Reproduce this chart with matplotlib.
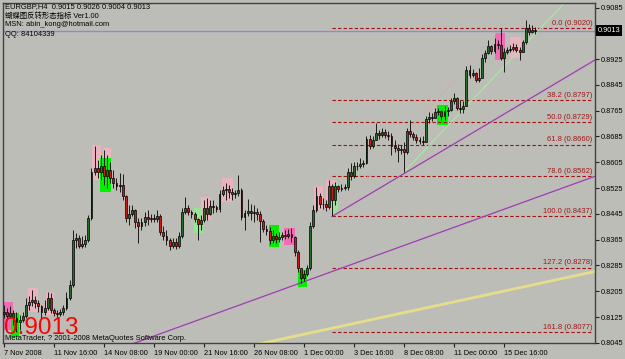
import numpy as np
import matplotlib
matplotlib.use("Agg")
import matplotlib.pyplot as plt
from matplotlib.patches import Rectangle

plt.rcParams['font.family'] = ['Liberation Sans', 'Noto Sans CJK SC', 'DejaVu Sans']

# EURGBP H4 candles from 7 Nov 2008 00:00, prices in 1/10000
first_open = 8134
closes = [8141, 8128, 8138, 8122, 8110, 8116, 8128, 8163, 8172, 8178,
          8169, 8159, 8141, 8153, 8184, 8147, 8138, 8135, 8141, 8153,
          8184, 8225, 8364, 8370, 8345, 8352, 8364, 8432, 8575, 8587,
          8575, 8593, 8562, 8581, 8556, 8541, 8531, 8534, 8500, 8432,
          8445, 8457, 8420, 8407, 8420, 8435, 8429, 8432, 8429, 8438,
          8389, 8376, 8364, 8345, 8358, 8345, 8376, 8451, 8463, 8451,
          8445, 8429, 8414, 8426, 8463, 8445, 8469, 8466, 8460, 8507,
          8519, 8522, 8513, 8507, 8510, 8519, 8435, 8448, 8454, 8448,
          8451, 8445, 8423, 8398, 8392, 8364, 8376, 8367, 8373, 8380,
          8376, 8383, 8373, 8327, 8277, 8246, 8259, 8277, 8407, 8457,
          8500, 8476, 8474, 8466, 8531, 8488, 8531, 8522, 8525, 8528,
          8575, 8562, 8593, 8592, 8600, 8603, 8677, 8655, 8674, 8696,
          8690, 8699, 8690, 8686, 8655, 8649, 8643, 8645, 8637, 8702,
          8693, 8683, 8674, 8671, 8669, 8739, 8745, 8742, 8761, 8764,
          8748, 8764, 8767, 8795, 8804, 8773, 8770, 8779, 8891, 8876,
          8882, 8860, 8866, 8928, 8944, 8965, 8950, 8972, 8970, 8928,
          8947, 8953, 8956, 8962, 8953, 8947, 8978, 9021, 9010, 9015,
          9013]
highs = [8163, 8153, 8159, 8147, 8141, 8132, 8141, 8184, 8190, 8209,
         8190, 8178, 8163, 8178, 8203, 8200, 8153, 8147, 8150, 8163,
         8203, 8240, 8395, 8386, 8380, 8376, 8380, 8442, 8587, 8655,
         8612, 8628, 8643, 8628, 8606, 8581, 8556, 8572, 8570, 8504,
         8473, 8473, 8460, 8432, 8432, 8451, 8457, 8445, 8445, 8457,
         8445, 8407, 8395, 8370, 8370, 8370, 8389, 8463, 8497, 8473,
         8457, 8451, 8432, 8442, 8488, 8494, 8488, 8488, 8473, 8519,
         8531, 8541, 8534, 8525, 8519, 8565, 8525, 8457, 8491, 8476,
         8473, 8463, 8454, 8429, 8410, 8404, 8395, 8386, 8389, 8389,
         8395, 8398, 8401, 8376, 8333, 8277, 8271, 8287, 8420, 8473,
         8528, 8510, 8494, 8488, 8550, 8538, 8544, 8534, 8538, 8538,
         8587, 8603, 8606, 8606, 8618, 8612, 8686, 8690, 8686, 8727,
         8705, 8711, 8708, 8702, 8696, 8674, 8662, 8659, 8668, 8711,
         8736, 8699, 8693, 8683, 8686, 8748, 8761, 8758, 8773, 8773,
         8767, 8779, 8776, 8804, 8820, 8807, 8798, 8795, 8903, 8906,
         8894, 8885, 8897, 8941, 8953, 8984, 8968, 8990, 8984, 9020,
         8959, 8962, 8968, 8975, 8972, 8962, 8984, 9046, 9034, 9030,
         9026]
lows = [8122, 8116, 8122, 8100, 8079, 8085, 8110, 8122, 8147, 8159,
        8153, 8141, 8122, 8132, 8147, 8138, 8128, 8125, 8128, 8132,
        8147, 8178, 8218, 8339, 8339, 8339, 8342, 8358, 8426, 8566,
        8556, 8550, 8534, 8525, 8541, 8525, 8519, 8513, 8488, 8420,
        8410, 8438, 8401, 8355, 8395, 8407, 8410, 8420, 8420, 8420,
        8380, 8364, 8349, 8333, 8339, 8336, 8339, 8370, 8445, 8442,
        8432, 8420, 8364, 8395, 8420, 8426, 8442, 8448, 8451, 8451,
        8500, 8488, 8494, 8488, 8494, 8500, 8426, 8395, 8438, 8426,
        8420, 8426, 8358, 8389, 8380, 8352, 8355, 8355, 8358, 8364,
        8367, 8370, 8358, 8314, 8265, 8231, 8237, 8252, 8271, 8401,
        8451, 8463, 8460, 8454, 8460, 8437, 8473, 8513, 8516, 8519,
        8519, 8550, 8556, 8581, 8587, 8590, 8600, 8646, 8649, 8674,
        8677, 8683, 8680, 8674, 8628, 8637, 8606, 8631, 8575, 8631,
        8683, 8674, 8665, 8662, 8659, 8668, 8727, 8733, 8742, 8752,
        8736, 8736, 8748, 8764, 8786, 8767, 8758, 8758, 8779, 8866,
        8869, 8854, 8854, 8866, 8916, 8941, 8941, 8944, 8956, 8922,
        8885, 8941, 8947, 8950, 8947, 8922, 8947, 8972, 8999, 9006,
        9004]

tick_pos = [0, 16, 32, 48, 64, 80, 96, 112, 128, 144, 160]
tick_labels = ["7 Nov 2008", "11 Nov 16:00", "14 Nov 08:00", "19 Nov 00:00",
               "21 Nov 16:00", "26 Nov 08:00", "1 Dec 00:00", "3 Dec 16:00",
               "8 Dec 08:00", "11 Dec 00:00", "15 Dec 16:00"]
price_ticks = [0.9085, 0.8925, 0.8845, 0.8765, 0.8685, 0.8605, 0.8525,
               0.8445, 0.8365, 0.8285, 0.8205, 0.8125, 0.8045]

fib_pct = ["0.0", "38.2", "50.0", "61.8", "78.6", "100.0", "127.2", "161.8"]
fib_price = [0.9020, 0.8797, 0.8729, 0.8660, 0.8562, 0.8437, 0.8278, 0.8077]
fib_start, fib_end = 105, 188.6

# pattern highlight boxes (bar from, bar to, low, high, kind)
box_x0 = [-0.5, 2.3, 7.6, 13.4, 28.2, 31.6, 30.8, 60.8, 63.0, 69.8, 84.8, 89.6,
          94.0, 99.2, 103.0, 105.3, 138.6, 157.0, 161.9]
box_x1 = [2.9, 4.9, 10.9, 16.0, 31.0, 34.4, 34.3, 63.7, 66.2, 73.3, 88.0, 93.1,
          97.0, 102.1, 106.2, 106.9, 142.0, 160.3, 165.4]
box_lo = [0.8085, 0.8063, 0.8141, 0.8132, 0.8550, 0.8560, 0.8513, 0.8386, 0.8426,
          0.8482, 0.8342, 0.8349, 0.8218, 0.8457, 0.8457, 0.8448, 0.8721, 0.8922, 0.8928]
box_hi = [0.8172, 0.8138, 0.8215, 0.8203, 0.8658, 0.8649, 0.8618, 0.8463, 0.8497,
          0.8556, 0.8410, 0.8401, 0.8271, 0.8531, 0.8550, 0.8541, 0.8783, 0.9006, 0.8993]
box_kind = ['hot', 'green', 'pink', 'pink', 'pink', 'pink', 'green', 'pale', 'pink',
            'pink', 'green', 'hot', 'green', 'pink', 'pink', 'pale', 'green', 'hot', 'pink']
box_colors = {'hot': '#f06cb4', 'green': '#00f000', 'pink': '#e9b4bf', 'pale': '#96e496'}

# trend lines: two anchor points each (bar, price)
trend_upper = [(105, 0.8437), (178, 0.8858)]
trend_lower = [(95, 0.8231), (189, 0.8561)]
trend_yellow = [(95, 0.80695), (178, 0.8243)]
trend_green = [(128, 0.8575), (178, 0.9085)]
fib_base = [(105, 0.8437), (159, 0.9020)]
bid = 0.9013

W, H = 625, 359
bg = '#bdbdb8'

def px(x, y):
    return x / W, 1 - y / H

def ray(ax, pts, x_from, x_to, **kw):
    (x1, y1), (x2, y2) = pts
    k = (y2 - y1) / (x2 - x1)
    xs = np.array([x_from, x_to])
    ax.plot(xs, y1 + k * (xs - x1), **kw)

fig = plt.figure(figsize=(W / 100, H / 100), dpi=100, facecolor=bg)
ax = fig.add_axes([3 / W, 16 / H, 592 / W, 340 / H], facecolor=bg)
xmin, xmax = -0.3, 189.14
ax.set_xlim(xmin, xmax)
ax.set_ylim(0.80444, 0.90990)

for x0, x1, lo, hi, kind in zip(box_x0, box_x1, box_lo, box_hi, box_kind):
    ax.add_patch(Rectangle((x0, lo), x1 - x0, hi - lo, facecolor=box_colors[kind],
                           edgecolor='none', zorder=1))

# fib levels
for pct, lvl in zip(fib_pct, fib_price):
    ax.plot([fib_start, fib_end], [lvl, lvl], color='#a01010', lw=0.8,
            linestyle=(0, (3, 2)), zorder=2)
    ax.text(fib_end - 0.3, lvl + 0.0004, f"{pct} ({lvl:.4f})", ha='right', va='bottom',
            fontsize=5.5, color='#a01818', zorder=2)

ray(ax, fib_base, fib_base[0][0], fib_base[1][0], color='#d8a4ac', lw=0.8,
    linestyle=':', zorder=2)
ray(ax, trend_upper, trend_upper[0][0], xmax, color='#a03cb0', lw=0.9, zorder=2)
ray(ax, trend_lower, xmin, xmax, color='#a03cb0', lw=0.9, zorder=2)
ray(ax, trend_yellow, xmin, xmax, color='#e4de8a', lw=2, zorder=2)
ray(ax, trend_green, trend_green[0][0], xmax, color='#a8e8a0', lw=0.8, zorder=2)
ax.axhline(bid, color='#8c8cc8', lw=1, zorder=2)

# candles
c = np.array(closes) / 1e4
h = np.array(highs) / 1e4
l = np.array(lows) / 1e4
o = np.concatenate([[first_open / 1e4], c[:-1]])
x = np.arange(len(c))
up = c >= o
ax.vlines(x, l, h, color='#1a1a1a', lw=0.7, zorder=3)
ax.bar(x[up], np.maximum(c - o, 0.00005)[up], bottom=o[up], width=0.6,
       color='#2c6a2c', edgecolor='black', lw=0.5, zorder=4)
ax.bar(x[~up], (o - c)[~up], bottom=c[~up], width=0.6,
       color='#d01818', edgecolor='black', lw=0.5, zorder=4)

# axes look
for s in ax.spines.values():
    s.set_color('#404040')
    s.set_linewidth(1)
ax.yaxis.tick_right()
ax.set_yticks(price_ticks)
ax.set_yticklabels([f"{p:.4f}" for p in price_ticks])
ax.set_xticks(tick_pos)
ax.set_xticklabels(tick_labels, ha='left')
ax.tick_params(axis='both', direction='out', length=3, width=0.8, color='#202020',
               labelsize=5.3, pad=1)
ax.tick_params(axis='x', pad=2)

fig.text(*px(598, 30.5), f"{bid:.4f}", fontsize=5.3, color='white', va='center',
         bbox=dict(facecolor='black', edgecolor='none', pad=1.2))

# chart captions
fig.text(*px(5, 7), "EURGBP,H4  0.9015 0.9026 0.9004 0.9013", fontsize=5.4, va='center')
fig.text(*px(5, 16), "蝴蝶图反转形态指标 Ver1.00", fontsize=5.3, va='center')
fig.text(*px(5, 25), "MSN: abin_kong@hotmail.com", fontsize=5.4, va='center')
fig.text(*px(5, 35), "QQ: 84104339", fontsize=5.4, va='center')
fig.text(*px(4, 328), "0.9013", fontsize=17.5, color='#ff0000', va='center')
fig.text(*px(5, 339), "MetaTrader, ? 2001-2008 MetaQuotes Software Corp.",
         fontsize=5.4, va='center')

fig.savefig("out.png", dpi=100, facecolor=bg)
